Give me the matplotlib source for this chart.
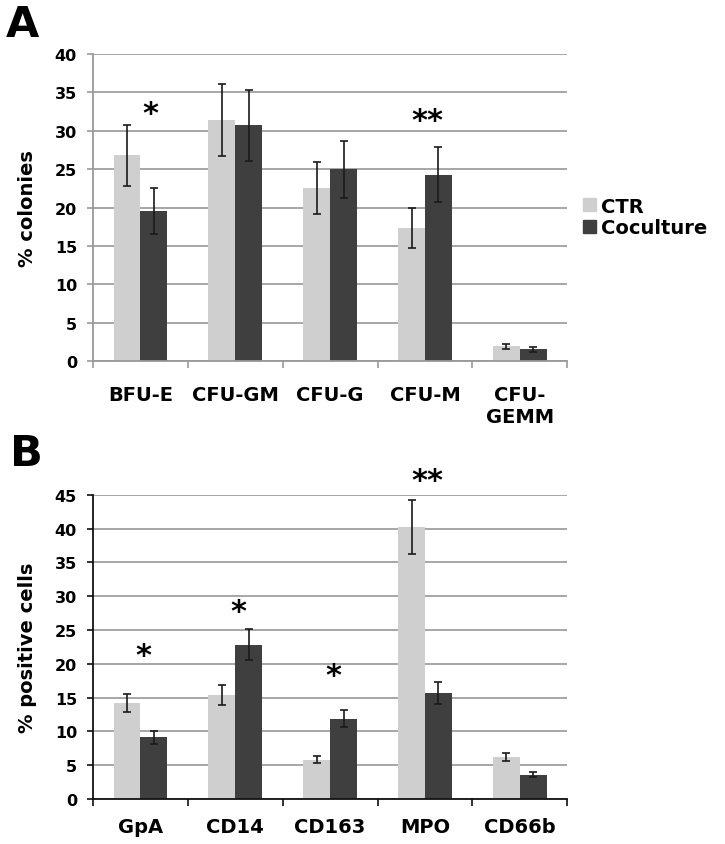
import numpy as np
import matplotlib
matplotlib.use('Agg')
import matplotlib.pyplot as plt
from matplotlib.patches import Patch

# panel A: colony assay
colony_types = ['BFU-E', 'CFU-GM', 'CFU-G', 'CFU-M', 'CFU-\nGEMM']
colony_ctr = [26.8, 31.4, 22.5, 17.3, 1.9]
colony_ctr_err = [4.0, 4.7, 3.4, 2.6, 0.3]
colony_cocult = [19.6, 30.7, 25.0, 24.3, 1.5]
colony_cocult_err = [3.0, 4.6, 3.7, 3.6, 0.3]
colony_stars = [(0, 32.2, '*'), (3, 31.3, '**')]

# panel B: surface markers
markers = ['GpA', 'CD14', 'CD163', 'MPO', 'CD66b']
marker_ctr = [14.2, 15.4, 5.8, 40.2, 6.2]
marker_ctr_err = [1.4, 1.5, 0.55, 4.0, 0.6]
marker_cocult = [9.1, 22.8, 11.9, 15.7, 3.6]
marker_cocult_err = [0.9, 2.3, 1.2, 1.6, 0.35]
marker_stars = [(0, 21.2, '*'), (1, 27.8, '*'), (2, 18.2, '*'), (3, 47.2, '**')]

c_ctr = '#cfcfcf'
c_co = '#3f3f3f'
grid_c = '#a6a6a6'

plt.rcParams['font.family'] = 'DejaVu Sans'
plt.rcParams['font.weight'] = 'bold'

fig = plt.figure(figsize=(7.25, 8.45), dpi=100)
axA = fig.add_axes([0.1283, 0.5716, 0.654, 0.3633])
axB = fig.add_axes([0.1283, 0.0533, 0.654, 0.3598])


def panel(ax, cats, ctr, ctr_err, co, co_err, stars, ymax, ylabel, spine_c, xpad):
    x = np.arange(len(cats))
    w = 0.283
    ax.set_axisbelow(True)
    ax.yaxis.grid(True, color=grid_c, linewidth=1.4)
    ax.bar(x - w / 2, ctr, w, color=c_ctr, zorder=2)
    ax.bar(x + w / 2, co, w, color=c_co, zorder=2)
    ekw = dict(fmt='none', ecolor='#1a1a1a', elinewidth=1.2, capsize=2.8,
               capthick=1.2, zorder=3)
    ax.errorbar(x - w / 2, ctr, yerr=ctr_err, **ekw)
    ax.errorbar(x + w / 2, co, yerr=co_err, **ekw)
    for i, yv, s in stars:
        ax.text(i + (0.1 if s == '*' and ymax == 40 else 0.03), yv, s,
                ha='center', va='center', fontsize=22, fontweight='bold',
                clip_on=False)
    ax.set_xlim(-0.5, len(cats) - 0.5)
    ax.set_ylim(0, ymax)
    ax.set_yticks(np.arange(0, ymax + 1, 5))
    ax.set_xticks(x)
    ax.set_xticklabels(cats, fontsize=14, fontweight='bold')
    ax.set_xticks(np.arange(-0.5, len(cats), 1), minor=True)
    ax.tick_params(axis='x', which='major', length=0, pad=xpad)
    ax.tick_params(axis='x', which='minor', length=5, width=1.2, color=spine_c)
    ax.tick_params(axis='y', length=4.5, width=1.2, color=spine_c,
                   labelsize=11.5, pad=7)
    for lab in ax.get_yticklabels():
        lab.set_fontweight('bold')
    for sp in ['top', 'right']:
        ax.spines[sp].set_visible(False)
    for sp in ['left', 'bottom']:
        ax.spines[sp].set_color(spine_c)
        ax.spines[sp].set_linewidth(1.3)
    ax.set_ylabel(ylabel, fontsize=14, fontweight='bold')
    ax.yaxis.set_label_coords(-0.118, 0.5)


panel(axA, colony_types, colony_ctr, colony_ctr_err, colony_cocult,
      colony_cocult_err, colony_stars, 40, '% colonies', '#999999', 17)
panel(axB, markers, marker_ctr, marker_ctr_err, marker_cocult,
      marker_cocult_err, marker_stars, 45, '% positive cells', '#111111', 13)

handles = [Patch(color=c_ctr, label='CTR'), Patch(color=c_co, label='Coculture')]
fig.legend(handles=handles, loc='center left', bbox_to_anchor=(0.78, 0.742),
           frameon=False, handlelength=0.65, handleheight=0.65,
           handletextpad=0.25, labelspacing=0.15,
           prop={'weight': 'bold', 'size': 14})

fig.text(0.008, 0.970, 'A', fontsize=31, fontweight='bold', va='center')
fig.text(0.014, 0.463, 'B', fontsize=31, fontweight='bold', va='center')

fig.savefig('out.png', dpi=100)
